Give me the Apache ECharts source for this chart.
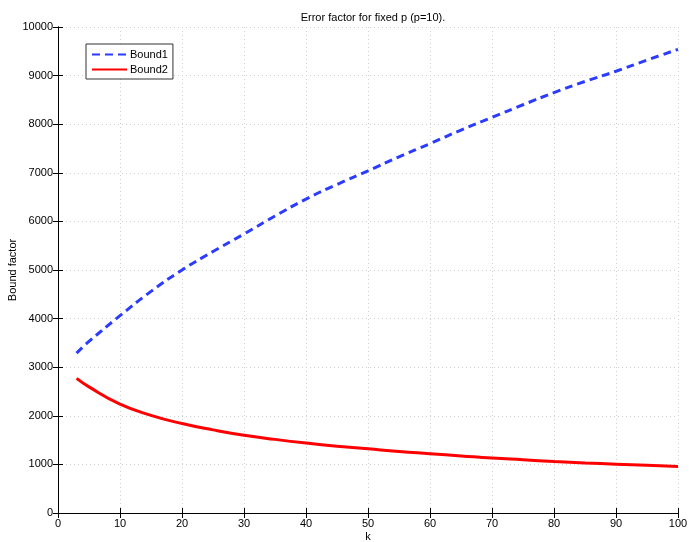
<!DOCTYPE html>
<html>
<head>
<meta charset="utf-8">
<script src="https://cdn.jsdelivr.net/npm/echarts@6/dist/echarts.min.js"></script>
<style>html,body{margin:0;padding:0;background:#fff}#c{width:689px;height:542px}</style>
</head>
<body>
<div id="c"></div>
<script>
var kValues = [3, 5, 10, 15, 20, 25, 30, 35, 40, 45, 50, 55, 60, 65, 70, 75, 80, 85, 90, 95, 100];
var bound1 = [3290, 3530, 4060, 4560, 5000, 5380, 5740, 6110, 6460, 6760, 7040, 7330, 7600, 7880, 8140, 8400, 8650, 8880, 9090, 9320, 9540];
var bound2 = [2770, 2595, 2240, 2010, 1840, 1710, 1600, 1515, 1440, 1375, 1320, 1265, 1220, 1175, 1130, 1095, 1060, 1030, 1005, 980, 955];
var xTicks = [0, 10, 20, 30, 40, 50, 60, 70, 80, 90, 100];
var yTicks = [0, 1000, 2000, 3000, 4000, 5000, 6000, 7000, 8000, 9000, 10000];

var font = 'Liberation Sans, Arial, Helvetica, sans-serif';
function pairs(v){ return kValues.map(function(k,i){ return [k, v[i]]; }); }

var chart = echarts.init(document.getElementById('c'), null, {renderer:'canvas'});
var axisCommon = {
  axisLine:{show:true, lineStyle:{color:'#000', width:1}},
  axisTick:{show:true, inside:true, length:5, lineStyle:{color:'#000'}},
  axisLabel:{color:'#000', fontSize:11, fontFamily:font, margin:5, formatter:function(v){ return String(v); }},
  splitLine:{show:false}
};
chart.setOption({
  animation:false,
  backgroundColor:'#fff',
  title:{text:'Error factor for fixed p (p=10).', left:368, textAlign:'center', top:7,
    textStyle:{fontSize:11, fontWeight:'normal', color:'#000', fontFamily:font}},
  grid:{left:58, right:11, top:27, bottom:29, containLabel:false, outerBoundsMode:'none'},
  legend:{
    orient:'vertical', left:86, top:44,
    backgroundColor:'#fff', borderColor:'#333', borderWidth:1,
    padding:[5,5,4,5], itemGap:4, itemWidth:35, itemHeight:12,
    itemStyle:{opacity:0},
    textStyle:{fontSize:11, fontFamily:font, color:'#000', padding:[0,0,0,-2]},
    data:['Bound1','Bound2']
  },
  xAxis:[
    Object.assign({}, axisCommon, {type:'value', min:0, max:100, interval:10,
      name:'k', nameLocation:'middle', nameGap:18, nameMoveOverlap:false,
      nameTextStyle:{fontSize:11, fontFamily:font, color:'#000'},
      splitLine:{show:true, lineStyle:{color:'#d0d0d0', type:[1,3], width:1}}}),
    Object.assign({}, axisCommon, {type:'value', min:0, max:100, interval:10, position:'top',
      axisLabel:{show:false}})
  ],
  yAxis:[
    Object.assign({}, axisCommon, {type:'value', min:0, max:10000, interval:1000,
      name:'Bound factor', nameLocation:'middle', nameGap:40, nameMoveOverlap:false,
      nameTextStyle:{fontSize:11, fontFamily:font, color:'#000'},
      splitLine:{show:true, lineStyle:{color:'#d0d0d0', type:[1,3], width:1}}}),
    Object.assign({}, axisCommon, {type:'value', min:0, max:10000, interval:1000, position:'right',
      axisLabel:{show:false}})
  ],
  series:[
    {name:'Bound1', type:'line', data:pairs(bound1), smooth:true, symbol:'none',
      lineStyle:{color:'#2b3cff', width:3, type:[8,5]}, itemStyle:{color:'#2b3cff'}},
    {name:'Bound2', type:'line', data:pairs(bound2), smooth:true, symbol:'none',
      lineStyle:{color:'#ff0000', width:3}, itemStyle:{color:'#ff0000'}}
  ]
});
</script>
</body>
</html>
